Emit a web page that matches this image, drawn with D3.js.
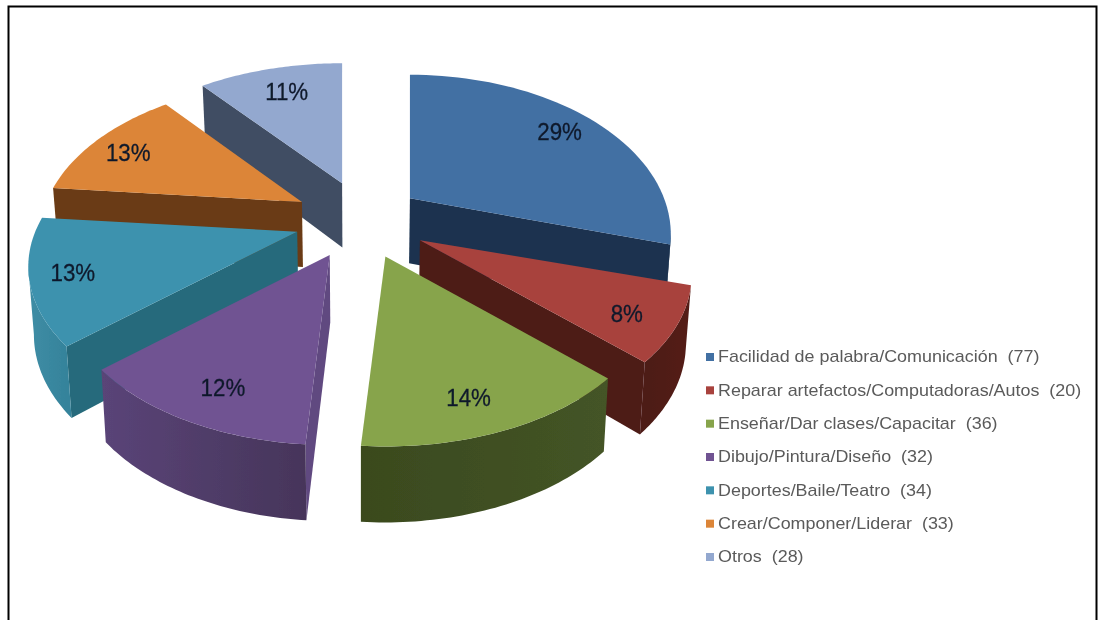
<!DOCTYPE html>
<html><head><meta charset="utf-8">
<script src="https://cdn.jsdelivr.net/npm/d3@7"></script>
<style>html,body{margin:0;padding:0;background:#fff}svg{display:block}text{font-family:"Liberation Sans",Arial,sans-serif}</style>
</head><body><svg id="c" width="1098" height="620"></svg>
<script>
const categories = ["Facilidad de palabra/Comunicación","Reparar artefactos/Computadoras/Autos","Enseñar/Dar clases/Capacitar","Dibujo/Pintura/Diseño","Deportes/Baile/Teatro","Crear/Componer/Liderar","Otros"];
const counts = [77,20,36,32,34,33,28];
const percentLabels = ["29%","8%","14%","12%","13%","13%","11%"];
const legendGaps = ["  ","  ","  ","  ","  ","  ","  "];
const topColors = ["#426fa3","#a8423e","#87a44c","#6f5392","#3d92ae","#dc8537","#93a8cf"];
const faceColors = ["#1b3350","#4d1b17","#3f4f20","#614a80","#266b7b","#6b3a12","#3f4d63"];
const rimLeft = ["#1b3350","#4d1b17","#3a4a1e","#5a4478","#3f8da5","#6b3a12","#3f4d63"];
const rimRight = ["#1b3350","#541d19","#445426","#46355a","#35839b","#6b3a12","#3f4d63"];
const labelRadii = [0.8,0.84,0.82,0.8,0.84,0.83,0.8];
const labelNudgeX = [-5,0,-7,3,-2,2,8];
const labelNudgeY = [-4,3,4,6,-2,2,0];
const apexNudgeX = [-3,3,2,-1,0,0,4];
const apexNudgeY = [-1,-1,-1,-1,-2,-2,-3];
const wedgeScaleX = [0.97,1.01,1,0.99,1,0.975,1];
const wedgeScaleY = [1.03,1,1,1,1,1,1];
const drawOrder = [6,0,5,4,1,3,2];

const svg = d3.select("#c");
const defs = svg.append("defs");
defs.append("filter").attr("id","soft").append("feGaussianBlur").attr("stdDeviation",0.45);
defs.append("filter").attr("id","softer").append("feGaussianBlur").attr("stdDeviation",0.6);

// frame
svg.append("path").attr("d","M8.5,620V6.5H1096.5V620").attr("fill","none").attr("stroke","#000").attr("stroke-width",2);

// geometry of the exploded, perspective pie
const cx=360, cy=222, Rx=262, Ry=147, k=0.226, ex=66, ey=38;
const depth = d3.scaleLinear().domain([200,447]).range([65,76]);
const pie = d3.pie().sort(null).startAngle(0).endAngle(2*Math.PI).value(d=>d);
const arcs = pie(counts);
const line = d3.line();

function ground(a,r){const u=r*Math.sin(a),v=-r*Math.cos(a),s=1/(1-k*v);return [Rx*u*s,Ry*v*s];}
function down(p){const d=depth(p[1]);return [p[0]-(p[0]-cx)*0.017,p[1]+d];}

const chart = svg.append("g").attr("filter","url(#soft)");
drawOrder.forEach(i=>{
  const a=arcs[i], mid=(a.startAngle+a.endAngle)/2;
  const apex=[cx+ex*Math.sin(mid)+apexNudgeX[i],cy-ey*Math.cos(mid)+apexNudgeY[i]];
  const at=(t,r)=>{const g=ground(t,r);return [apex[0]+g[0]*wedgeScaleX[i],apex[1]+g[1]*wedgeScaleY[i]];};
  const n=48;
  const rim=d3.range(n+1).map(j=>at(a.startAngle+(a.endAngle-a.startAngle)*j/n,1));
  const g=chart.append("g");
  // radial faces: visible when the top edge runs right-to-left on screen
  [[apex,rim[0]],[rim[n],apex]].forEach(([p,q])=>{
    if(q[0]<p[0]) g.append("path").attr("d",line([p,q,down(q),down(p)])+"Z").attr("fill",faceColors[i]);
  });
  // outer rim, visible portion
  const vis=[];
  for(let j=0;j<n;j++){ if(rim[j+1][0]<rim[j][0]){ if(!vis.length) vis.push(rim[j]); vis.push(rim[j+1]); } }
  if(vis.length){
    const id="rim"+i;
    const xs=d3.extent(vis,d=>d[0]);
    const gr=defs.append("linearGradient").attr("id",id).attr("gradientUnits","userSpaceOnUse")
      .attr("x1",xs[0]).attr("x2",xs[1]).attr("y1",0).attr("y2",0);
    gr.append("stop").attr("offset",0).attr("stop-color",rimLeft[i]);
    gr.append("stop").attr("offset",1).attr("stop-color",rimRight[i]);
    g.append("path").attr("d",line(vis.concat(vis.slice().reverse().map(down)))+"Z").attr("fill",`url(#${id})`);
  }
  g.append("path").attr("d",line([apex].concat(rim))+"Z").attr("fill",topColors[i]);
});

// percent labels
const lab = svg.append("g").attr("filter","url(#soft)");
arcs.forEach((a,i)=>{
  const mid=(a.startAngle+a.endAngle)/2;
  const g=ground(mid,labelRadii[i]);
  const x=cx+ex*Math.sin(mid)+g[0]+labelNudgeX[i], y=cy-ey*Math.cos(mid)+g[1]+labelNudgeY[i];
  lab.append("text").attr("transform",`translate(${x},${y}) scale(0.93,1)`)
    .attr("text-anchor","middle").attr("dominant-baseline","central")
    .attr("font-size",24).attr("fill","#101a2c").attr("stroke","#101a2c").attr("stroke-width",0.3).text(percentLabels[i]);
});

// legend
const ly = d3.scalePoint().domain(d3.range(categories.length)).range([357,557]);
const leg = svg.append("g").attr("filter","url(#softer)");
categories.forEach((c,i)=>{
  leg.append("rect").attr("x",706).attr("y",ly(i)-4).attr("width",8).attr("height",8).attr("fill",topColors[i]);
  leg.append("text").attr("transform",`translate(718,${ly(i)}) scale(1.12,1)`).attr("dominant-baseline","central")
    .attr("font-size",16).attr("fill","#5a5a5a").style("white-space","pre")
    .text(c+legendGaps[i]+"("+counts[i]+")");
});
</script></body></html>
